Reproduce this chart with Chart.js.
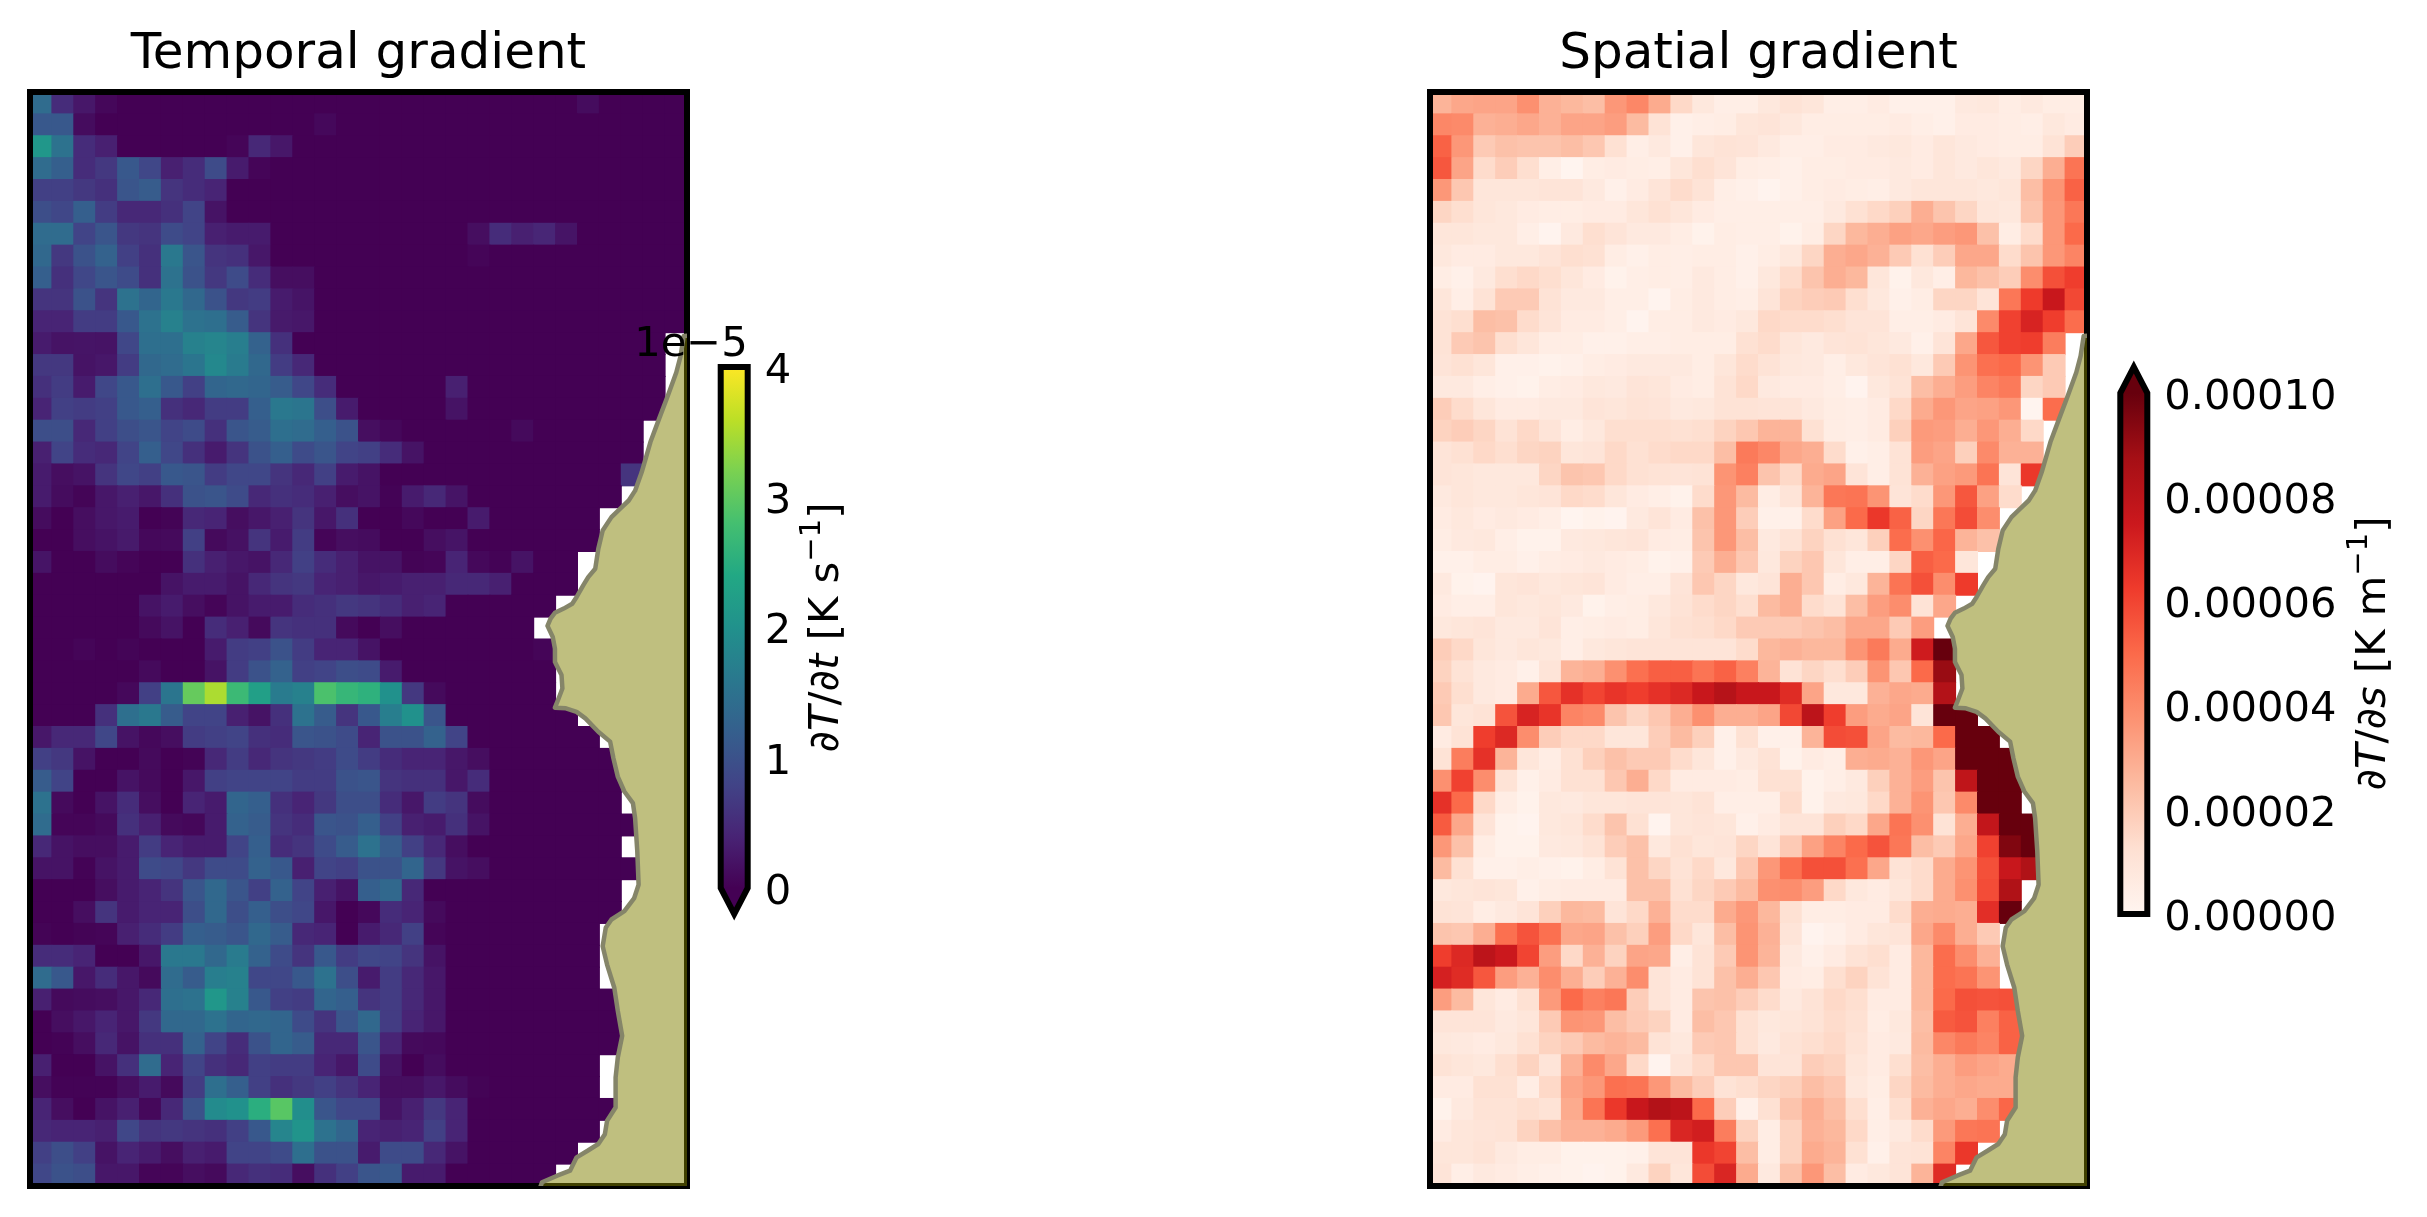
<!DOCTYPE html>
<html lang="en">
<head>
<meta charset="UTF-8">
<title>Temporal and spatial gradient</title>
<script src="https://cdn.jsdelivr.net/npm/chart.js"></script>
<style>
    body { margin: 0; background: #fff; }
    canvas { position: absolute; top: 0; }
</style>
</head>
<body>
<canvas id="tempMap" width="720" height="1217" style="left:0"></canvas>
<canvas id="tempBar" width="400" height="1217" style="left:600px"></canvas>
<canvas id="spatMap" width="720" height="1217" style="left:1400px"></canvas>
<canvas id="spatBar" width="327" height="1217" style="left:2100px"></canvas>

<script>
// dT/dt in units of 1e-5 K/s, one list per row, rows stop where the data stop at the coast
const tempRows = [
[1.4,.5,.25,.07,0,0,0,0,0,0, 0,0,0,0,0,0,0,0,0,0, 0,0,0,0,0,.12,0,0,0,0],
[1.1,1.1,.12,0,0,0,0,0,0,0, 0,0,0,.08,0,0,0,0,0,0, 0,0,0,0,0,0,0,0,0,0],
[2.1,1.5,.5,.35,0,0,0,0,0,.05, .45,.25,0,0,0,0,0,0,0,0, 0,0,0,0,0,0,0,0,0,0],
[1.4,1.2,.5,.65,1.1,.85,.35,.5,.9,.3, .05,0,0,0,0,0,0,0,0,0, 0,0,0,0,0,0,0,0,0,0],
[.75,.75,.65,.55,1.05,1.15,.6,.5,.4,0, 0,0,0,0,0,0,0,0,0,0, 0,0,0,0,0,0,0,0,0,0],
[.95,.85,1.2,.7,.45,.45,.55,.8,.2,0, 0,0,0,0,0,0,0,0,0,0, 0,0,0,0,0,0,0,0,0,0],
[1.4,1.4,.8,1.05,.65,.6,.9,.8,.35,.3, .3,0,0,0,0,0,0,0,0,0, .15,.5,.35,.42,.22,0,0,0,0,0],
[1.35,.65,1,1.25,.75,.55,1.6,1.05,.6,.55, .25,0,0,0,0,0,0,0,0,0, .05,0,0,0,0,0,0,0,0,0],
[1.2,.55,.85,1.05,.9,.55,1.5,1,.65,.9, .5,.15,.15,0,0,0,0,0,0,0, 0,0,0,0,0,0,0,0,0,0],
[.6,.6,1,.6,1.5,1.3,1.6,1.35,1,.65, .7,.3,.22,0,0,0,0,0,0,0, 0,0,0,0,0,0,0,0,0,0],
[.4,.4,.7,.7,1.1,1.5,1.75,1.5,1.45,1.15, .6,.28,.25,0,0,0,0,0,0,0, 0,0,0,0,0,0,0,0,0,0],
[.3,.2,.22,.2,.85,1.45,1.45,1.75,1.8,1.7, 1.25,.55,0,0,0,0,0,0,0,0, 0,0,0,0,0,0,0,0,0],
[.65,.65,.2,.25,.7,1.35,1.4,1.55,1.85,1.65, 1.35,.7,.45,0,0,0,0,0,0,0, 0,0,0,0,0,0,0,0,0],
[.55,.7,.3,.85,1.1,1.45,1.1,.75,1.3,1.35, 1.3,1.15,.85,.5,0,0,0,0,0,.35, 0,0,0,0,0,0,0,0,0],
[.4,.75,.7,.75,1.1,1.2,.55,.45,.7,.7, 1.2,1.6,1.55,.95,.3,0,0,0,0,.2, 0,0,0,0,0,0,0,0,0],
[.95,.95,.45,.75,.95,1.05,.8,.9,.55,1.05, 1.15,1.45,1.4,1.2,1,.15,.07,0,0,0, 0,0,.1,0,0,0,0,0],
[.35,.8,.5,.45,.8,1.2,.85,.55,.3,.6, 1,1.2,.9,1.05,.8,.75,.5,.2,0,0, 0,0,0,0,0,0,0,0],
[.3,.15,.2,.6,.85,.75,1.1,1.05,.7,.85, .85,.6,.45,.75,.3,.2,0,0,0,0, 0,0,0,0,0,0,0,.6],
[.3,.12,.04,.25,.35,.25,.55,1,1.05,.9, .45,.55,.5,.35,.15,.2,.02,.3,.45,.22, 0,0,0,0,0,0,0],
[.12,0,.15,.25,.3,0,.03,.45,.4,.15, .25,.35,.6,.25,.55,0,0,.08,0,0, .3,0,0,0,0,0],
[0,0,.15,.2,.28,.08,.1,.75,.1,.18, .6,.3,.7,.05,.15,.12,0,0,.15,.22, 0,0,0,0,0,0],
[.22,0,0,.12,.05,0,0,.55,.35,.25, .2,.45,.75,.5,.35,.2,.2,.03,.05,.4, .08,.02,.2,0,0],
[0,0,0,0,0,0,.2,.3,.3,.2, .45,.6,.65,.4,.35,.25,.3,.35,.35,.45, .45,.35,0,0,0],
[0,0,0,0,0,.2,.3,.15,.05,.2, .3,.3,.5,.55,.65,.6,.5,.35,.4,0, 0,0,0,0],
[0,0,0,0,0,.1,.2,0,.5,.35, .1,.6,.55,.55,.1,0,.15,0,0,0, 0,0,0],
[0,0,.05,0,.04,0,0,0,.3,.7, .75,1,.7,.4,.4,.2,0,0,0,0, 0,0,0,.05],
[0,0,0,0,0,.1,0,0,.2,.7, 1,1.25,.75,.8,.95,.9,.3,0,0,0, 0,0,0,0],
[0,0,0,0,.08,.75,1.55,3.05,3.5,2.7, 2.25,1.65,1.75,2.85,2.65,2.55,2,.65,.1,0, 0,0,0,0],
[0,0,0,.55,1.45,1.6,1.15,.8,.8,.35, .2,.55,1.5,1.15,.6,1.1,1.7,2,1.05,0, 0,0,0,0,0],
[.25,.45,.45,.85,.2,.08,.15,.7,.75,.8, .55,.5,1.05,1,.9,.4,1,1,1.25,.8, 0,0,0,0,0,0],
[.75,.65,.2,0,0,.1,0,.03,.45,.7, .45,.6,.65,.7,.9,.7,.5,.4,.4,.25, .15,0,0,0,0,0,0],
[1.15,.8,0,0,.2,.1,0,.25,.75,.8, .8,.8,.7,.7,1,1.05,.6,.55,.55,.25, .5,0,0,0,0,0,0],
[1.5,.1,0,.2,.5,.15,0,.4,.3,1.3, 1.2,.55,.4,.65,.95,.95,.5,.25,.7,.6, .12,0,0,0,0,0,0],
[1.4,.05,.05,.1,.55,.35,.1,.07,.3,1.25, 1.15,.6,.5,1.05,1,1.2,.75,.35,.3,.55, .2,0,0,0,0,0,0,0],
[.45,.2,.15,.15,.3,.7,.4,.3,.3,.8, 1.2,.5,.6,.9,1.15,1.5,1.15,.75,.45,.15, 0,0,0,0,0,0,0],
[.2,.2,.02,.2,.3,.9,.85,.65,.9,.9, 1.25,1.1,.35,.8,.75,1,1,1.3,.65,.2, .15,0,0,0,0,0,0,0],
[0,0,0,.15,.3,.4,.6,1.05,1.35,1.05, .75,1.25,.8,.35,.2,1.2,1.35,.45,0,0, 0,0,0,0,0,0,0],
[0,0,.15,.6,.3,.4,.4,.95,1.35,.95, 1.2,.95,.85,.25,0,.08,.5,.4,.1,0, 0,0,0,0,0,0,0],
[.03,0,.03,.05,.35,.5,.7,1.2,1.15,1.05, 1.35,1.15,.45,.4,0,.3,.45,.75,.05,0, 0,0,0,0,0,0],
[.5,.5,.4,0,0,.25,1.6,1.6,1.35,1.65, 1.25,.9,.6,1.1,.7,.85,.8,.6,.2,0, 0,0,0,0,0,0],
[1.4,1.1,.25,.5,.25,.1,1.4,1.15,1.7,1.75, .85,.85,1.1,1.5,.95,.3,.7,.45,.25,0, 0,0,0,0,0,0],
[.35,.1,.12,.15,.25,.45,1.45,1.5,2.1,1.75, 1.1,.75,.7,1.3,1.2,.6,.7,.45,.25,0, 0,0,0,0,0,0,0],
[0,.15,.25,.4,.25,.65,1.35,1.35,1.5,1.3, 1.35,1.3,.9,.6,1.05,1.35,.7,.4,.25,0, 0,0,0,0,0,0,0],
[0,.02,.15,.45,.2,.55,.55,1.25,.8,.5, 1,1.3,1.15,.45,.45,1.05,.4,.1,.08,0, 0,0,0,0,0,0,0],
[.35,0,0,.2,.55,1.4,.4,.8,.55,.45, .75,.7,.7,.4,.25,.9,.2,0,.12,0, 0,0,0,0,0,0],
[.15,.02,.02,.02,.15,.3,.1,.7,1.45,1.2, .75,.55,.65,.75,.6,.4,.15,.15,.25,.12, .03,0,0,0,0,0],
[.4,.15,0,.2,.35,.08,.45,1,1.9,2, 2.5,2.95,1.95,1.05,.85,.85,.2,.35,.65,.4, 0,0,0,0,0,0,0],
[.45,.4,.4,.35,.85,.6,.65,.6,.55,.75, 1.1,1.8,2.05,1.5,1.3,.4,.35,.4,.75,.4, 0,0,0,0,0,0],
[.75,.95,.75,.2,.4,.3,.15,.35,.3,.8, .8,.9,1.45,1,1,.3,.9,.9,.45,.2, 0,0,0,0,0],
[.85,1,.95,.25,.25,.05,.05,.15,.1,.45, .55,.5,.15,.55,.75,1.05,1.1,.3,.3,0, 0,0,0,0]
];

// dT/ds in units of 1e-5 K/m
const spatRows = [
[2.7,3.1,3.2,3.2,3.8,2.8,2.6,2.4,3.6,4.1, 3,1.5,.8,.4,.4,.8,1.1,.9,.4,.4, .6,.3,.3,.3,.7,.8,.5,.7,.5,.5],
[4.1,4,2.8,2.9,3.1,2.8,3.2,3.2,3.4,2.5, 1.1,.3,.4,.5,.9,1,.8,.5,.5,.5, .5,.6,.4,.3,.6,.6,.5,.4,.8,.6],
[5.2,3.6,2,2.3,2.2,2.2,2.4,2.1,1.2,.4, .7,.3,.9,1.1,1,.7,.4,.4,.6,.6, .7,.8,.6,.9,.7,.6,.5,.5,1.1,1.9],
[5.5,3.2,1.4,1.9,1.3,.4,.05,.5,.6,.5, .4,.9,1.3,1,.5,.4,.3,.5,.5,.6, .6,.7,.6,.9,.7,.9,.7,1.6,2.9,4.7],
[3.6,2.1,.9,.9,.9,1,1,.7,.3,.6, 1,1.4,1.1,.4,.3,.1,.3,.5,.6,.5, .4,.7,.9,.9,.9,.8,.9,2.4,3.7,5.2],
[1.6,1.3,.9,.8,.6,.5,.5,.6,.6,.9, 1.2,.9,.6,.4,.4,.4,.4,.4,.7,1.2, 1.5,1.8,2.9,2.2,1.6,.9,.8,2.2,3.6,4.6],
[.9,.9,.8,.8,.4,.1,.7,1.3,1,.7, .7,.5,.2,.5,.4,.4,.2,.5,1.6,2.6, 2.9,3.3,3.1,3.4,3.6,2.3,.5,1.4,3.6,5],
[.8,.6,.6,.8,.8,1,1.3,1.2,.5,.3, .5,.4,.5,.5,.3,.5,.8,1.6,2.9,3.1, 2.8,2,1.2,1.9,3.1,3.1,1.4,2.2,3.6,4.2],
[.5,.3,.7,1.3,1.5,1.3,.9,.6,.2,.4, .5,.4,.7,.5,.3,.8,1.4,2.2,2.9,2.6, .9,.2,.8,.4,2.6,2.3,1.9,3.9,5.7,6.2],
[.9,.4,1.1,2,2,1.1,.7,.7,.4,.4, .1,.5,.7,.5,.4,1,1.7,1.9,2,1.3, .8,.3,.5,1.6,1.6,1,4.6,6.3,7.6,5.9],
[1.1,1.3,2.4,2.3,1.4,1,.6,.6,.4,.1, .5,.5,.7,.6,.8,1.5,1.4,1.4,1.3,1, 1,.4,.4,.6,1,4,6.1,7.1,6.2,4.9],
[1.1,2,2.2,1.3,.9,.5,.5,.3,.3,.4, .4,.5,.5,.5,1.2,1.4,.9,.7,1,1.1, .9,.7,.3,1,3.1,5.5,6.1,6.2,4.4],
[1,1.2,.9,.3,.3,.2,.3,.5,.6,.7, .7,.7,.5,.9,1.4,1.1,.8,.7,.4,.8, 1,1.2,.8,2,3.7,4.8,5,3.7,2],
[.7,.7,.4,.3,.2,.5,.6,.8,.7,1, .9,.6,.5,1.1,1.5,.7,.6,.6,.4,.1, .8,1.1,2.4,2.9,3.4,4.2,4.5,1.6,2],
[1.9,1.4,.9,.6,.6,.7,.7,1,.9,1.1, 1,.7,.8,1.1,1.1,1,1,.7,.5,.4, .6,1.5,3,3.6,3.2,3.3,3.6,.05,4.9],
[1.7,1.9,1.6,1.1,1.5,1,.5,.8,1.3,1.3, 1.3,1.2,1.3,1.7,2.1,2.7,2.7,1.2,.5,.4, .6,1.8,3.5,3.4,2.9,3.6,2.9,1.5],
[1,1.2,1.5,1.3,1.6,1.7,.9,1,1.5,1.2, 1.4,1.5,1.5,2.4,4.5,4.1,3.1,2.9,1.4,.3, .4,1.1,3.4,3.2,1.8,4,2.8,2.8],
[1,.9,.8,.8,.8,1.6,2.2,2.1,1.5,1.2, 1.1,1,1.1,3.7,4.3,2.2,1.5,3,3.2,1, .4,1.1,2.8,3.3,3.5,4.7,1,6.4],
[.7,.9,.8,.8,.9,1,1.5,1.4,.9,.6, .4,.2,1.4,3.6,2.5,.5,1,2.7,4.6,4.7, 3.7,1,1.4,3.6,5.5,3.3,1.4],
[.6,.8,.6,.7,.6,.4,.05,.2,.1,.7, 1,.6,2.3,3.6,1.9,.3,.3,1.4,3.3,5, 6.4,5.2,1.6,4.6,5.8,3.9],
[.5,.7,.8,.4,.2,.2,.7,.8,.9,1, .6,.5,2.2,3.6,2.4,.7,1.1,1.7,1.2,.9, 1.8,4.9,3.8,5.1,2.7,2.3],
[.3,.3,.5,.5,.3,.5,.6,.7,.6,.5, .2,.3,2,2.9,2.1,.8,1.7,2.1,.9,.4, .4,1.6,5.3,5,.9],
[.7,.2,.1,.9,1,.8,.9,1,.6,.4, .4,1,2.1,1.6,.8,1,2.9,2.1,.5,.8, 2.7,4.7,5.7,3.9,6.3],
[.6,.4,.4,.9,.8,.9,.7,.2,.4,.5, .8,1.1,1.4,1.6,1.3,2.5,2.9,1.4,1.1,2.4, 3.4,3.9,1.1,3.1],
[.8,.9,1,.7,.7,1,.4,.5,.6,.5, .9,1.2,1.3,1.5,2,2,2,2.2,2.4,3.1, 3.1,2,3.4],
[1.9,1.5,.9,.7,.9,.8,.4,.8,.9,1, 1,1,1,1,1.4,2.6,2.8,2.6,2.6,3.7, 4.5,3,7.4,10],
[1.7,1.1,.7,.6,.3,1,2.7,2.9,3.8,4.8, 5.3,5.3,4.7,5.2,4.3,2.7,1.1,1.6,1.3,1.9, 3.7,2.1,5,9],
[2,1.3,.7,.6,3,5.5,6.6,6,6.5,6.2, 6.6,6.9,7.6,8.2,7.6,7.6,6.8,3.2,.8,.8, 2.8,3.1,3,8.3],
[2.1,.9,1.1,5.6,7.1,6.5,4.2,4,2.2,1.6, 2.1,2.9,3.8,2.9,2.9,3.2,5.9,8,6.2,3.4, 3,3.2,1,10,10],
[.6,1.1,6.2,6.9,3.9,1.9,1.5,1.5,.9,.9, 1.9,2.5,1.8,.3,1.2,.3,.3,2.7,5.8,5.7, 3.2,2.5,2.6,5,10,10],
[1.1,4.4,6.6,2.7,.9,.5,1.2,1.8,2.3,2, 2,1.4,.9,.3,.7,1.1,.2,.6,.4,2.9, 3,2.8,3.6,3.2,10,10,10],
[3.8,6.1,3.9,1.1,.3,.6,1.2,1.2,2.1,2.9, 1.5,.6,.6,.6,.5,1.2,1.2,.2,.4,.7, 1.8,2.8,3.4,2.2,7.9,10,10],
[6.6,5,1.5,.5,.2,.8,.7,.9,.9,1, 1,.9,1.1,.4,.4,.4,1.4,.2,.7,.8, 1.5,2.8,3.7,2.1,4,10,10],
[5.4,3.1,1,.2,.1,.8,.9,1.4,2.2,1.2, .1,.9,1,.9,.3,.6,1,1,1.8,1.5, 3.1,4.7,3.8,1.1,2.9,7.8,10,10],
[3.6,2.3,.5,.2,.2,.7,.8,1.1,1.9,2.3, .8,1.2,.9,1,1.6,1,2,3.3,4.2,5, 5.6,4.6,2.4,2,3.1,6.1,9.5,10],
[2.5,1.2,.3,.3,.4,.3,.2,.5,1.1,2.3, 1.6,1.1,1.5,.8,2.1,3.6,4.8,5.7,5.7,4.8, 3.1,1.1,1.4,3,3.7,5.7,7.6,8.4],
[.8,.9,1,.9,.3,.5,.6,.6,.6,2.3, 2.3,1.2,1.6,2,2.5,3.8,3.9,3.4,1.5,.8, .6,.9,1.4,3,3.8,5.8,8.4],
[1.1,1,.5,.7,1,1.8,2.6,2.5,1,1.5, 2.8,1.4,1.4,3,3.6,2.6,1.2,.5,.5,.6, .6,1.4,2.9,3,2.9,6.7,10],
[2.2,2.1,2.9,4.8,5.6,4.8,3.1,3.2,2.3,1.8, 3.4,1.5,.9,2.4,3.7,2.8,1,.1,.3,.6, .9,1,3.1,4,2.9,2],
[6.2,6.9,8,7.5,6,3.4,1.5,2.8,1.7,3.2, 3.1,.4,1.1,2,3.7,2.7,.7,.3,.6,1.1, 1.3,.6,2.6,4.9,3.9,2.8],
[7.2,6.8,5.5,3.4,2.8,3.9,2.9,1.9,2.8,3.9, 1,.6,1.1,2.3,2.9,2.1,.6,.5,1.3,1.7, 1.1,.6,2.6,4.9,4.7,3.7],
[3.4,2.5,.9,.6,1.2,3.5,5,4.3,4.6,1.9, 1,.6,2.2,2.3,1.9,1.4,.7,1.1,1.5,1.3, .6,.6,2.6,5,5.7,5.6,5.7],
[1,1,1,.7,.9,2,3.7,3.6,2.4,2, 1.7,.6,2.4,2.1,1.2,.8,.9,1.1,1.4,1.2, .5,.8,2.4,5.4,5.6,4.3,5.2],
[.8,.7,.6,.8,1.2,1.7,2,2.5,2.7,2.5, 1.1,.8,2,2.1,1.2,.7,1.1,1.3,1.5,1.1, .6,.7,2.5,4.1,4.5,4.2,5.2],
[1.1,.9,.8,1.3,1.7,1,2.8,4,3.1,1.5, .1,1,1.5,2.1,2.1,1,1,1.9,1.7,.9, .6,1.3,2.4,2.9,3.4,3.2,3],
[.6,.6,1.2,1.2,.5,1.5,3.2,3.6,4.8,4.7, 3.6,2.5,1.9,1.1,1.3,1.6,1.8,2.4,2.1,.8, .5,1.6,2.5,2.9,3.1,3,3],
[.2,.7,1.1,1.1,1.3,1.1,3,4.7,6.4,7.6, 8.3,8,5,1.9,.3,1.2,2.2,2.9,2.4,1.3, .4,1.3,2.8,3.1,2.9,3.9,5.1],
[.6,.9,1,1.1,1.7,2.3,2.8,2.8,3,3.5, 4.8,7,7.3,4.4,1.7,.5,1.7,2.8,2.6,1.5, .4,.7,1.4,3.5,4.6,4.7],
[.9,.9,1.1,.7,.5,.5,.2,.2,.2,.3, 1,1,6.4,6,2.4,.5,1.7,3,2.7,1.2, .3,1,1.1,4.2,6.4],
[1,.4,.7,.6,.4,.3,.2,.1,.2,.7, 1.7,.9,5.8,7,3,.7,2.3,3.6,2.4,.6, .8,1,2.7,6.8]
];

// coastline, same grid units as the cells (column, row)
const coastCols = [30.5,29.35,29.21,29.01,28.62,28.22,27.83,27.43,27.13,26.84,26.44,26.05,25.65,25.45,25.31,24.99,24.76,24.46,24.26,23.87,23.47,23.27,23.13,23.37,23.47,23.47,23.77,23.81,23.61,23.47,23.97,24.46,24.86,25.45,25.99,26.14,26.34,26.64,27.03,27.13,27.23,27.29,27.09,26.64,26.05,25.79,25.65,25.85,26.18,26.34,26.54,26.34,26.24,26.24,25.85,25.75,25.45,24.96,24.46,24.16,23.57,22.88,22.75,30.5];
const coastRows = [10.6,10.65,11.56,12.32,13.39,14.45,15.5,16.88,17.72,18.17,18.55,18.93,19.54,20.38,21.29,21.67,22.05,22.58,22.89,23.11,23.3,23.57,23.9,24.41,24.94,25.55,26.15,26.76,27.29,27.64,27.67,27.83,28.13,28.74,29.19,29.95,30.79,31.47,32,32.69,34.21,35.73,36.34,36.94,37.32,37.7,38.54,39.38,40.44,41.5,42.64,43.63,44.54,45.91,46.52,47.13,47.58,47.89,48.19,48.8,49.03,49.33,49.7,50.5];

const frameCols = [-0.5, 29.5, 29.5, -0.5, -0.5];
const frameRows = [-0.5, -0.5, 49.5, 49.5, -0.5];

const viridis = ['#440154','#482475','#414487','#355f8d','#2a788e','#21918c','#22a884','#44bf70','#7ad151','#bddf26','#fde725'];
const reds = ['#fff5f0','#fee0d2','#fcbba1','#fc9272','#fb6a4a','#ef3b2c','#cb181d','#a50f15','#67000d'];

const tempTicks = [0, 1, 2, 3, 4];
const spatTicks = [0, 2, 4, 6, 8, 10];

const FONT = '"DejaVu Sans"';
const TICK_SIZE = 41.67;

function hexToRgb(h) {
    return [1, 3, 5].map(i => parseInt(h.substr(i, 2), 16));
}

function colorFor(stops, t) {
    t = Math.max(0, Math.min(1, t));
    const p = t * (stops.length - 1);
    const i = Math.min(Math.floor(p), stops.length - 2);
    const a = hexToRgb(stops[i]), b = hexToRgb(stops[i + 1]);
    const c = a.map((v, k) => Math.round(v + (b[k] - v) * (p - i)));
    return `rgb(${c[0]},${c[1]},${c[2]})`;
}

function heatmap(id, rows, stops, vmax, title, left) {
    const cells = [], colors = [];
    rows.forEach((row, r) => row.forEach((v, c) => {
        cells.push({ x: c, y: r });
        colors.push(colorFor(stops, v / vmax));
    }));
    const coast = coastCols.map((x, i) => ({ x, y: coastRows[i] }));
    const canvas = document.getElementById(id);
    new Chart(canvas, {
        type: 'scatter',
        data: {
            datasets: [
                {
                    data: cells,
                    order: 4,
                    clip: 0,
                    pointStyle: 'rect',
                    pointRadius: 16.2,
                    pointBorderWidth: 0,
                    pointBackgroundColor: colors
                },
                {
                    // white under the land so the cells do not show through
                    data: coast,
                    order: 3,
                    clip: 0,
                    showLine: true,
                    pointRadius: 0,
                    fill: 'shape',
                    backgroundColor: '#fff',
                    borderWidth: 0
                },
                {
                    data: frameCols.map((x, i) => ({ x, y: frameRows[i] })),
                    order: 2,
                    clip: false,
                    showLine: true,
                    pointRadius: 0,
                    borderColor: '#000',
                    borderWidth: 6,
                    borderCapStyle: 'square',
                    borderJoinStyle: 'miter'
                },
                {
                    data: coast,
                    order: 1,
                    clip: 0,
                    showLine: true,
                    pointRadius: 0,
                    fill: 'shape',
                    backgroundColor: 'rgba(128,128,0,0.5)',
                    borderColor: 'rgb(133,133,105)',
                    borderWidth: 4.5,
                    borderJoinStyle: 'round'
                }
            ]
        },
        options: {
            responsive: false,
            animation: false,
            devicePixelRatio: 1,
            layout: { padding: { left: left, right: canvas.width - left - 657, top: 0, bottom: 31 } },
            plugins: {
                legend: { display: false },
                tooltip: { enabled: false },
                title: {
                    display: true,
                    text: title,
                    fullSize: false,
                    color: '#000',
                    font: { family: FONT, size: 50, weight: 'normal', lineHeight: 1.2 },
                    padding: { top: 25, bottom: 7 }
                }
            },
            scales: {
                x: { type: 'linear', display: false, min: -0.5, max: 29.5 },
                y: { type: 'linear', display: false, min: -0.5, max: 49.5, reverse: true }
            }
        }
    });
}

// label pieces: text, italic?, superscript?
function drawRuns(ctx, runs, cx, cy) {
    const fontOf = r => `${r[1] ? 'italic ' : ''}${r[2] ? TICK_SIZE * 0.7 : TICK_SIZE}px ${FONT}`;
    let total = 0;
    runs.forEach(r => { ctx.font = fontOf(r); total += ctx.measureText(r[0]).width; });
    ctx.save();
    ctx.translate(cx, cy);
    ctx.rotate(-Math.PI / 2);
    ctx.fillStyle = '#000';
    ctx.textBaseline = 'alphabetic';
    ctx.textAlign = 'left';
    let x = -total / 2;
    runs.forEach(r => {
        ctx.font = fontOf(r);
        ctx.fillText(r[0], x, r[2] ? -TICK_SIZE * 0.42 : 0);
        x += ctx.measureText(r[0]).width;
    });
    ctx.restore();
}

function colorbar(cfg) {
    const canvas = document.getElementById(cfg.id);
    const barRight = cfg.left + 27;
    const last = cfg.ticks[cfg.ticks.length - 1];
    const barPlugin = {
        id: 'barOutline',
        afterDatasetsDraw(chart) {
            const ctx = chart.ctx, a = chart.chartArea, y = chart.scales.y;
            const top = y.getPixelForValue(last), bottom = y.getPixelForValue(0);
            const ext = (bottom - top) * 0.05, mid = (a.left + a.right) / 2;
            const isMin = cfg.extend === 'min';
            const base = isMin ? bottom : top;
            const tip = isMin ? bottom + ext : top - ext;
            const far = isMin ? top : bottom;
            ctx.save();
            // extension triangle
            ctx.beginPath();
            ctx.moveTo(a.left, base);
            ctx.lineTo(a.right, base);
            ctx.lineTo(mid, tip);
            ctx.closePath();
            ctx.fillStyle = isMin ? cfg.stops[0] : cfg.stops[cfg.stops.length - 1];
            ctx.fill();
            // outline
            ctx.beginPath();
            ctx.moveTo(a.left, far);
            ctx.lineTo(a.right, far);
            ctx.lineTo(a.right, base);
            ctx.lineTo(mid, tip);
            ctx.lineTo(a.left, base);
            ctx.closePath();
            ctx.strokeStyle = '#000';
            ctx.lineWidth = 6;
            ctx.lineJoin = 'miter';
            ctx.stroke();
            ctx.restore();
            if (cfg.offset) {
                ctx.save();
                ctx.font = `${TICK_SIZE}px ${FONT}`;
                ctx.fillStyle = '#000';
                ctx.textAlign = 'right';
                ctx.textBaseline = 'alphabetic';
                ctx.fillText(cfg.offset, barRight, top - 11);
                ctx.restore();
            }
            drawRuns(ctx, cfg.label, cfg.labelX, (top + bottom) / 2);
        }
    };
    new Chart(canvas, {
        type: 'bar',
        data: {
            labels: [''],
            datasets: [{
                data: [[0, last]],
                barPercentage: 1,
                categoryPercentage: 1,
                backgroundColor(c) {
                    const area = c.chart.chartArea;
                    if (!area) return cfg.stops[0];
                    const g = c.chart.ctx.createLinearGradient(0, area.bottom, 0, area.top);
                    cfg.stops.forEach((s, i) => g.addColorStop(i / (cfg.stops.length - 1), s));
                    return g;
                }
            }]
        },
        options: {
            responsive: false,
            animation: false,
            devicePixelRatio: 1,
            layout: { padding: { left: cfg.left, right: 0, top: cfg.top, bottom: 1217 - cfg.bottom } },
            plugins: { legend: { display: false }, tooltip: { enabled: false } },
            scales: {
                x: { display: false },
                y: {
                    position: 'right',
                    min: 0,
                    max: last,
                    afterFit(s) { s.width = canvas.width - barRight; },
                    afterBuildTicks(s) { s.ticks = cfg.ticks.map(value => ({ value })); },
                    grid: { display: false, drawTicks: false },
                    border: { display: false },
                    ticks: {
                        padding: 17,
                        labelOffset: 5,
                        color: '#000',
                        font: { family: FONT, size: TICK_SIZE },
                        callback: cfg.format
                    }
                }
            }
        },
        plugins: [barPlugin]
    });
}

heatmap('tempMap', tempRows, viridis, 4, 'Temporal gradient', 30);
heatmap('spatMap', spatRows, reds, 10, 'Spatial gradient', 30);

colorbar({
    id: 'tempBar', left: 120.7, top: 367, bottom: 888, ticks: tempTicks, stops: viridis,
    extend: 'min', offset: '1e\u22125', labelX: 238,
    format: v => String(v),
    label: [['\u2202'], ['T', true], ['/\u2202'], ['t', true], [' [K s'], ['\u22121', false, true], [']']]
});
colorbar({
    id: 'spatBar', left: 20.3, top: 393, bottom: 914, ticks: spatTicks, stops: reds,
    extend: 'max', labelX: 285,
    format: v => (v * 1e-5).toFixed(5),
    label: [['\u2202'], ['T', true], ['/\u2202'], ['s', true], [' [K m'], ['\u22121', false, true], [']']]
});
</script>
</body>
</html>
